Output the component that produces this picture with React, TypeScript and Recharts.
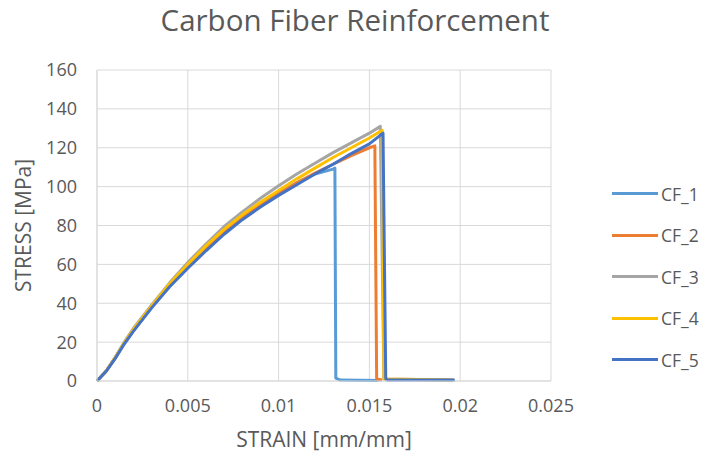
import { CartesianGrid, Label, Line, LineChart, XAxis, YAxis } from "recharts";

// strain grid shared by the loading part of every curve
const strain = [0, 0.0005, 0.001, 0.0015, 0.002, 0.003, 0.004, 0.005, 0.006, 0.007, 0.008, 0.009, 0.01, 0.011, 0.012, 0.013, 0.014, 0.015];

const cf1Stress = [0, 5, 12, 19.5, 26, 38, 49, 59, 68, 76.5, 84, 90.5, 96.5, 102, 106.5, 109];
const cf2Stress = [0, 5, 12, 19.5, 26, 38, 49, 59, 68, 76.5, 84, 90.5, 96.5, 102, 107, 111.5, 116, 120];
const cf3Stress = [0, 5, 12, 20, 27, 39, 50.5, 61, 70.5, 79.5, 87, 94, 100.5, 106.5, 112, 117.5, 122.5, 127.5];
const cf4Stress = [0, 5, 12, 19.5, 26.5, 38.5, 50, 60, 69.5, 78, 85.5, 92, 98, 104, 109.5, 115, 120, 125];
const cf5Stress = [0, 5, 11.5, 19, 25.5, 37.5, 48.5, 58, 67, 75.5, 83, 89.5, 95.5, 101, 106.5, 111.5, 117, 122];

// peak, break and residual tail: [strain, stress]
const cf1Break = [[0.0131, 109.5], [0.01315, 1.5], [0.0134, 0.5], [0.0155, 0.3]];
const cf2Break = [[0.0153, 121], [0.0154, 1], [0.0157, 0.5]];
const cf3Break = [[0.0156, 131], [0.0158, 1], [0.0196, 0.5]];
const cf4Break = [[0.0157, 129], [0.0158, 1], [0.0196, 0.5]];
const cf5Break = [[0.01575, 127.5], [0.0159, 1.2], [0.016, 0.5], [0.0197, 0.5]];

const xTicks = [0, 0.005, 0.01, 0.015, 0.02, 0.025];
const yTicks = [0, 20, 40, 60, 80, 100, 120, 140, 160];

const build = (stress: number[], brk: number[][]) => [
  ...stress.map((y, i) => ({ x: strain[i], y })),
  ...brk.map(([x, y]) => ({ x, y })),
];

const series = [
  { name: "CF_1", color: "#5B9BD5", data: build(cf1Stress, cf1Break) },
  { name: "CF_2", color: "#ED7D31", data: build(cf2Stress, cf2Break) },
  { name: "CF_3", color: "#A5A5A5", data: build(cf3Stress, cf3Break) },
  { name: "CF_4", color: "#FFC000", data: build(cf4Stress, cf4Break) },
  { name: "CF_5", color: "#4472C4", data: build(cf5Stress, cf5Break) },
];

const font = "'Open Sans', Lato, sans-serif";
const grey = "#595959";

export default function App() {
  return (
    <div style={{ position: "relative", width: 710, height: 460, background: "#fff", fontFamily: font }}>
      <style>{`body{margin:0}`}</style>
      <LineChart width={710} height={460} margin={{ top: 70, right: 159, bottom: 9, left: 17 }}>
        <CartesianGrid stroke="#d9d9d9" />
        <XAxis
          type="number"
          dataKey="x"
          domain={[0, 0.025]}
          ticks={xTicks}
          allowDuplicatedCategory={false}
          height={70}
          stroke="#d9d9d9"
          tickLine={false}
          tickSize={0}
          tickMargin={18}
          tick={{ fontSize: 18, fill: grey, fontFamily: font }}
        >
          <Label value="STRAIN [mm/mm]" position="insideBottom" offset={4} style={{ fontSize: 21, fill: grey, fontFamily: font }} />
        </XAxis>
        <YAxis
          type="number"
          domain={[0, 160]}
          ticks={yTicks}
          width={80}
          stroke="#d9d9d9"
          tickLine={false}
          tickSize={0}
          tickMargin={20}
          tick={{ fontSize: 18, fill: grey, fontFamily: font }}
        >
          <Label value="STRESS [MPa]" angle={-90} position="insideLeft" offset={7} style={{ fontSize: 21, fill: grey, fontFamily: font, textAnchor: "middle" }} />
        </YAxis>
        {series.map((s) => (
          <Line
            key={s.name}
            data={s.data}
            dataKey="y"
            name={s.name}
            type="linear"
            stroke={s.color}
            strokeWidth={3}
            strokeLinejoin="round"
            dot={false}
            activeDot={false}
            isAnimationActive={false}
          />
        ))}
      </LineChart>
      <div style={{ position: "absolute", zIndex: 1, top: 2, left: 0, width: 710, textAlign: "center", fontSize: 29.5, lineHeight: "36px", color: grey }}>
        Carbon Fiber Reinforcement
      </div>
      <div style={{ position: "absolute", zIndex: 1, left: 612, top: 173 }}>
        {series.map((s) => (
          <div key={s.name} style={{ display: "flex", alignItems: "center", height: 41.5, fontSize: 17.5, color: grey }}>
            <span style={{ width: 46, height: 3, background: s.color, marginRight: 3 }} />
            {s.name}
          </div>
        ))}
      </div>
    </div>
  );
}
